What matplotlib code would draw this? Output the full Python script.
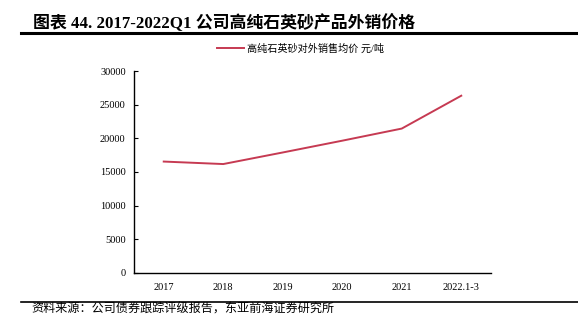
import matplotlib
matplotlib.use("Agg")
import matplotlib.pyplot as plt
from matplotlib.lines import Line2D

# data
years = ["2017", "2018", "2019", "2020", "2021", "2022.1-3"]
price = [16550, 16180, 17900, 19650, 21450, 26330]
series_name = "高纯石英砂对外销售均价 元/吨"
title = "图表 44. 2017-2022Q1 公司高纯石英砂产品外销价格"
source = "资料来源：公司债券跟踪评级报告，东亚前海证券研究所"

serif_cjk = ["Liberation Serif", "Noto Sans CJK SC", "DejaVu Sans"]
plt.rcParams["font.family"] = serif_cjk

fig = plt.figure(figsize=(5.78, 3.26), dpi=100)
ax = fig.add_axes([0.2318, 0.1626, 0.8495 - 0.2318, 0.7822 - 0.1626])

x = list(range(len(years)))
ax.plot(x, price, color="#C63A52", linewidth=1.4)

ax.set_xlim(-0.5, len(years) - 0.5)
ax.set_ylim(0, 30000)
ax.set_yticks(range(0, 30001, 5000))
ax.set_xticks(x)
ax.set_xticklabels(years)
ax.tick_params(axis="y", direction="in", length=3, labelsize=7.5, pad=6)
ax.tick_params(axis="x", length=0, labelsize=7.5, pad=7)
for s in ["top", "right"]:
    ax.spines[s].set_visible(False)
for s in ["left", "bottom"]:
    ax.spines[s].set_linewidth(1.0)
    ax.spines[s].set_color("black")

# legend at top
leg_handle = Line2D([], [], color="#C63A52", linewidth=1.4)
fig.legend([leg_handle], [series_name], loc="center", bbox_to_anchor=(0.52, 0.85),
           frameon=False, handlelength=2.67, handletextpad=0.3,
           prop={"family": serif_cjk, "size": 7.3})

# title and rules
fig.text(0.057, 0.929, title, fontsize=12.2, fontweight="bold", va="center", ha="left")
fig.add_artist(Line2D([0.036, 1.0], [0.899, 0.899], color="black", linewidth=2.2))
fig.add_artist(Line2D([0.036, 1.0], [0.075, 0.075], color="black", linewidth=1.2))
fig.text(0.055, 0.052, source, fontsize=8.7, va="center", ha="left")

fig.savefig("out.png", dpi=100)
